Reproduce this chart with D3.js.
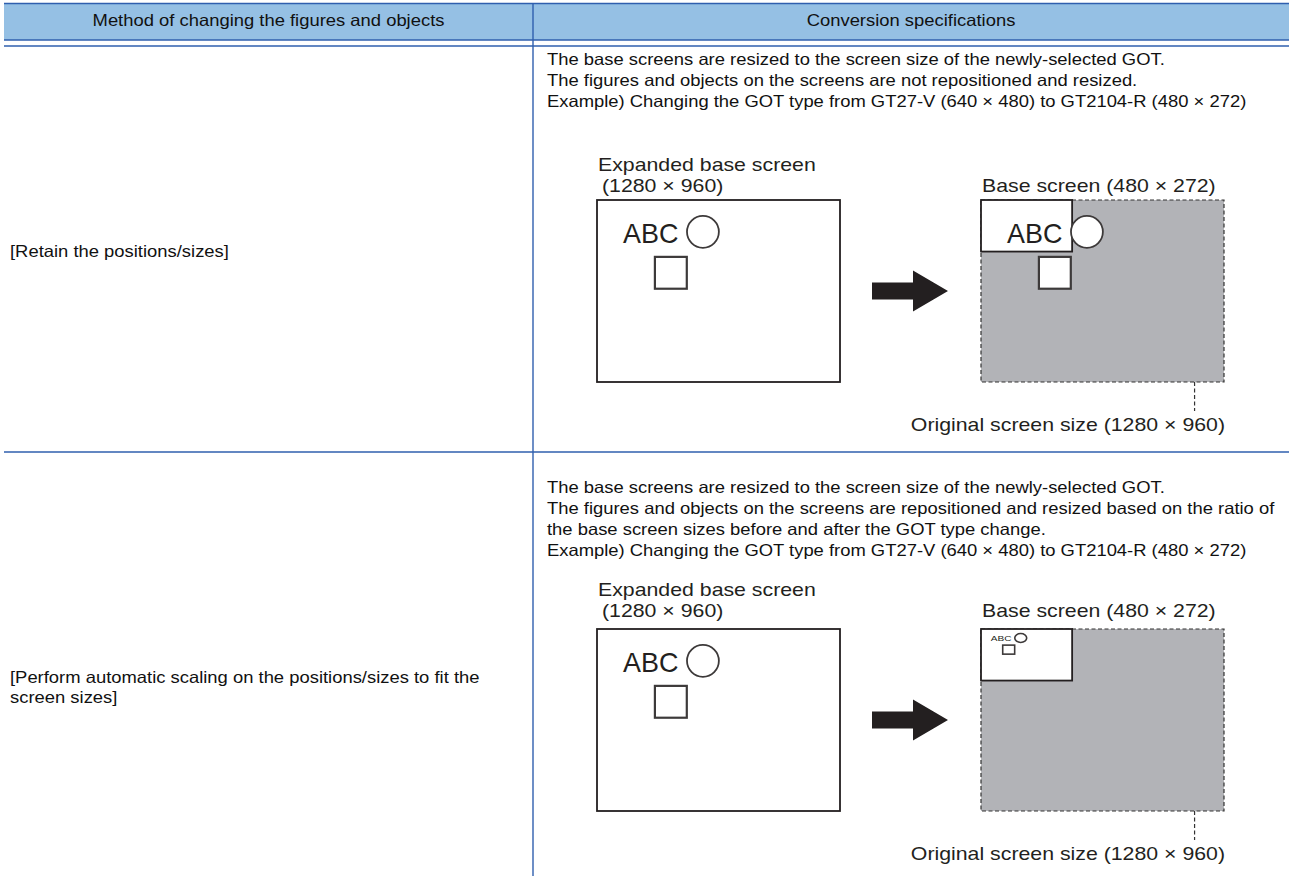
<!DOCTYPE html>
<html><head><meta charset="utf-8">
<script src="https://cdn.jsdelivr.net/npm/d3@7"></script>
<style>
html,body{margin:0;padding:0;background:#fff;}
svg{display:block;font-family:"Liberation Sans",Arial,Helvetica,sans-serif;}
</style></head>
<body><svg id="c" width="1289" height="876"></svg>
<script>
// ---- data ----
const headers = ["Method of changing the figures and objects", "Conversion specifications"];
const modes = ["retain", "scale"];
const methodLabels = [
  ["[Retain the positions/sizes]"],
  ["[Perform automatic scaling on the positions/sizes to fit the", "screen sizes]"]
];
const specLines = [
  ["The base screens are resized to the screen size of the newly-selected GOT.",
   "The figures and objects on the screens are not repositioned and resized.",
   "Example) Changing the GOT type from GT27-V (640 × 480) to GT2104-R (480 × 272)"],
  ["The base screens are resized to the screen size of the newly-selected GOT.",
   "The figures and objects on the screens are repositioned and resized based on the ratio of",
   "the base screen sizes before and after the GOT type change.",
   "Example) Changing the GOT type from GT27-V (640 × 480) to GT2104-R (480 × 272)"]
];
const originalSize = [1280, 960];   // expanded base screen (px)
const newSize = [480, 272];         // new base screen (px)
// objects on the screen, in screen pixels
const textObj = {label: "ABC", x: 137, y: 226, size: 142};
const circleObj = {cx: 558, cy: 168, r: 84};
const squareObj = {x: 305, y: 300, w: 168, h: 168};

// ---- layout ----
const W = 1289, H = 876;
const lineColor = "#2f5fae", headFill = "#95c0e4", grayFill = "#b2b3b7", ink = "#231f20";
const left = 4, colDiv = 533, right = W;
const rowTops = [46, 452];
const specBaselines = [65, 493];
const labelBaselines = [257, 683];
const boxTops = [200, 629];
const diagLabelOffsets = [[-29, -8], [-33, -12]];
const leftBoxX = 597, rightBoxX = 981;
const boxW = 243, boxH = 182;
const bodySize = 16.3, bodyStretch = 1.13, diagSize = 18.6, diagStretch = 1.145;

const svg = d3.select("#c");

function txt(parent, x, y, str, size, stretch, anchor, fill) {
  return parent.append("text")
    .attr("transform", `translate(${x},${y}) scale(${stretch},1)`)
    .attr("text-anchor", anchor || "start")
    .attr("font-size", size).attr("fill", fill || "#111").text(str);
}

// header
svg.append("rect").attr("x", left).attr("y", 3).attr("width", right - left).attr("height", 37).attr("fill", headFill);
const hl = (x1, y1, x2, y2) => svg.append("line").attr("x1", x1).attr("y1", y1).attr("x2", x2).attr("y2", y2)
  .attr("stroke", lineColor).attr("stroke-width", 1.4);
hl(left, 3.5, right, 3.5);
hl(left, 40, right, 40);
hl(left, 46, right, 46);
hl(left, rowTops[1], right, rowTops[1]);
hl(colDiv, 3, colDiv, H);

headers.forEach((h, i) => {
  txt(svg, i === 0 ? (left + colDiv) / 2 : (colDiv + right) / 2, 26, h, bodySize, bodyStretch, "middle");
});

const xS = d3.scaleLinear().domain([0, originalSize[0]]).range([0, boxW]);
const yS = d3.scaleLinear().domain([0, originalSize[1]]).range([0, boxH]);

function drawObjects(g, fx, fy) {
  const kx = (xS(1) - xS(0)) * fx, ky = (yS(1) - yS(0)) * fy;
  const fs = textObj.size * ky;
  g.append("text").attr("transform", `translate(${xS(textObj.x * fx)},${yS(textObj.y * fy)}) scale(${kx / ky},1)`)
    .attr("font-size", fs).attr("fill", ink).text(textObj.label);
  g.append("ellipse").attr("cx", xS(circleObj.cx * fx)).attr("cy", yS(circleObj.cy * fy))
    .attr("rx", circleObj.r * kx).attr("ry", circleObj.r * ky)
    .attr("fill", "#fff").attr("stroke", "#3d3a3a").attr("stroke-width", fx < 1 ? 1.6 : 1.8);
  g.append("rect").attr("x", xS(squareObj.x * fx)).attr("y", yS(squareObj.y * fy))
    .attr("width", squareObj.w * kx).attr("height", squareObj.h * ky)
    .attr("fill", "#fff").attr("stroke", "#3d3a3a").attr("stroke-width", fx < 1 ? 1.6 : 2.2);
}

const arrowPts = [[0, -8.5], [41, -8.5], [41, -20.5], [76, 0], [41, 20.5], [41, 8.5], [0, 8.5]];

modes.forEach((mode, r) => {
  methodLabels[r].forEach((s, i) => txt(svg, 10, labelBaselines[r] + i * 20, s, bodySize, bodyStretch));
  specLines[r].forEach((s, i) => txt(svg, 547, specBaselines[r] + i * 21, s, bodySize, bodyStretch));

  const top = boxTops[r];
  const gl = svg.append("g").attr("transform", `translate(${leftBoxX},${top})`);
  gl.append("rect").attr("x", xS(0)).attr("y", yS(0)).attr("width", xS(originalSize[0])).attr("height", yS(originalSize[1]))
    .attr("fill", "#fff").attr("stroke", ink).attr("stroke-width", 1.8);
  drawObjects(gl, 1, 1);
  txt(svg, leftBoxX + 1, top + diagLabelOffsets[r][0], "Expanded base screen", diagSize, diagStretch, "start", ink);
  txt(svg, leftBoxX + 5, top + diagLabelOffsets[r][1], `(${originalSize[0]} × ${originalSize[1]})`, diagSize, diagStretch, "start", ink);

  svg.append("path").attr("transform", `translate(872,${top + 91})`)
    .attr("d", d3.line()(arrowPts) + "Z").attr("fill", ink);

  const gr = svg.append("g").attr("transform", `translate(${rightBoxX},${top})`);
  gr.append("rect").attr("x", xS(0)).attr("y", yS(0)).attr("width", xS(originalSize[0])).attr("height", yS(originalSize[1]))
    .attr("fill", grayFill).attr("stroke", "#333").attr("stroke-width", 1.2).attr("stroke-dasharray", "4,2.5");
  gr.append("rect").attr("x", xS(0)).attr("y", yS(0)).attr("width", xS(newSize[0])).attr("height", yS(newSize[1]))
    .attr("fill", "#fff").attr("stroke", ink).attr("stroke-width", 1.8);
  if (mode === "retain") drawObjects(gr, 1, 1);
  else drawObjects(gr, newSize[0] / originalSize[0], newSize[1] / originalSize[1]);
  gr.append("line").attr("x1", xS(1125)).attr("x2", xS(1125)).attr("y1", yS(originalSize[1])).attr("y2", yS(originalSize[1]) + 29)
    .attr("stroke", "#333").attr("stroke-width", 1.2).attr("stroke-dasharray", "4,2.5");
  txt(svg, rightBoxX + 1, top + diagLabelOffsets[r][1], `Base screen (${newSize[0]} × ${newSize[1]})`, diagSize, diagStretch, "start", ink);
  txt(svg, 1225, top + boxH + 49, `Original screen size (${originalSize[0]} × ${originalSize[1]})`, diagSize, diagStretch, "end", ink);
});
</script></body></html>
